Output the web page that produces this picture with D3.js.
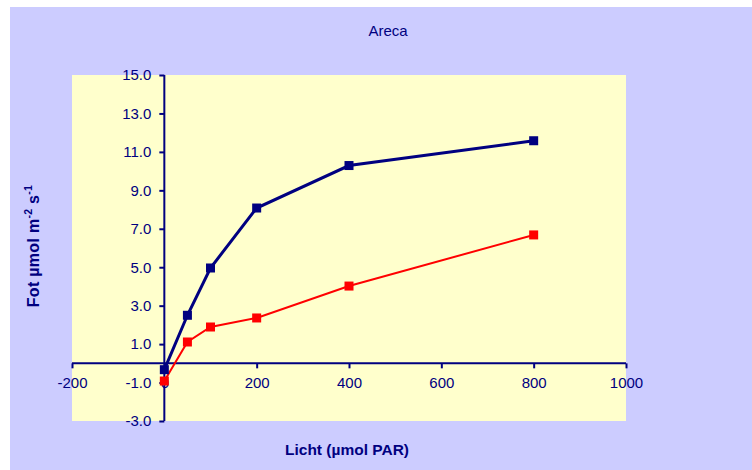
<!DOCTYPE html>
<html><head><meta charset="utf-8">
<script src="https://cdn.jsdelivr.net/npm/d3@7"></script>
<style>
html,body{margin:0;padding:0;background:#fff;}
svg{display:block;font-family:"Liberation Sans",Arial,sans-serif;}
</style></head>
<body>
<svg id="chart" width="752" height="470"></svg>
<script>
const title = "Areca";
const xLabel = "Licht (µmol PAR)";
const lightLevels = [0, 50, 100, 200, 400, 800];
const seriesBlue = [-0.33, 2.5, 4.96, 8.08, 10.29, 11.58];
const seriesRed = [-0.92, 1.11, 1.89, 2.36, 4.02, 6.68];
const xTicks = [-200, 0, 200, 400, 600, 800, 1000];
const yTicks = [-3, -1, 1, 3, 5, 7, 9, 11, 13, 15];

const navy = "#000080";
const svg = d3.select("#chart");
const loc = d3.formatLocale({decimal: ".", thousands: "", grouping: [3], currency: ["", ""], minus: "-"});

svg.append("rect").attr("x", 10).attr("y", 7).attr("width", 742).attr("height", 463).attr("fill", "#CCCCFF");

const plot = {l: 72, r: 626, t: 75, b: 421};
const x = d3.scaleLinear().domain([-200, 1000]).range([plot.l, plot.r]);
const y = d3.scaleLinear().domain([-3, 15]).range([plot.b, plot.t]);

svg.append("rect").attr("x", plot.l).attr("y", plot.t)
  .attr("width", plot.r - plot.l).attr("height", plot.b - plot.t).attr("fill", "#FFFFCC");

// title
svg.append("text").attr("x", 388).attr("y", 36).attr("text-anchor", "middle")
  .attr("fill", navy).style("font-size", "15px").text(title);

// axes
const xAxis = svg.append("g").attr("transform", `translate(0,${y(0)})`)
  .call(d3.axisBottom(x).tickValues(xTicks).tickSize(5).tickSizeOuter(0).tickPadding(9).tickFormat(loc.format("d")));
const yAxis = svg.append("g").attr("transform", `translate(${x(0)},0)`)
  .call(d3.axisLeft(y).tickValues(yTicks).tickSize(5).tickSizeOuter(0).tickPadding(8).tickFormat(loc.format(".1f")));

[xAxis, yAxis].forEach(g => {
  g.select(".domain").attr("stroke", navy).attr("stroke-width", 2);
  g.selectAll(".tick line").attr("stroke", navy).attr("stroke-width", 2);
  g.selectAll(".tick text").attr("fill", navy).style("font-size", "15px").style("font-family", "'Liberation Sans', Arial, sans-serif");
});
xAxis.select(".domain").attr("d", `M${plot.l},0H${plot.r}`);
yAxis.select(".domain").attr("d", `M0,${plot.b}V${plot.t}`);

// axis titles
svg.append("text").attr("x", 347).attr("y", 455).attr("text-anchor", "middle")
  .attr("fill", navy).style("font-size", "15.5px").style("font-weight", "bold").text(xLabel);

const yl = svg.append("text").attr("transform", "translate(39,246) rotate(-90)")
  .attr("text-anchor", "middle").attr("fill", navy)
  .style("font-size", "16px").style("font-weight", "bold").style("letter-spacing", "0.3px");
yl.append("tspan").text("Fot µmol m");
yl.append("tspan").attr("dy", -7).style("font-size", "10.5px").text("-2");
yl.append("tspan").attr("dy", 7).text(" s");
yl.append("tspan").attr("dy", -7).style("font-size", "10.5px").text("-1");

// series
function drawSeries(vals, color, width, size) {
  const data = lightLevels.map((d, i) => [d, vals[i]]);
  svg.append("path").datum(data)
    .attr("fill", "none").attr("stroke", color).attr("stroke-width", width)
    .attr("d", d3.line().x(d => x(d[0])).y(d => y(d[1])));
  svg.append("g").selectAll("rect").data(data).join("rect")
    .attr("x", d => x(d[0]) - size / 2).attr("y", d => y(d[1]) - size / 2)
    .attr("width", size).attr("height", size).attr("fill", color);
}
drawSeries(seriesRed, "#FF0000", 2, 9);
drawSeries(seriesBlue, navy, 3, 9);
</script>
</body></html>
